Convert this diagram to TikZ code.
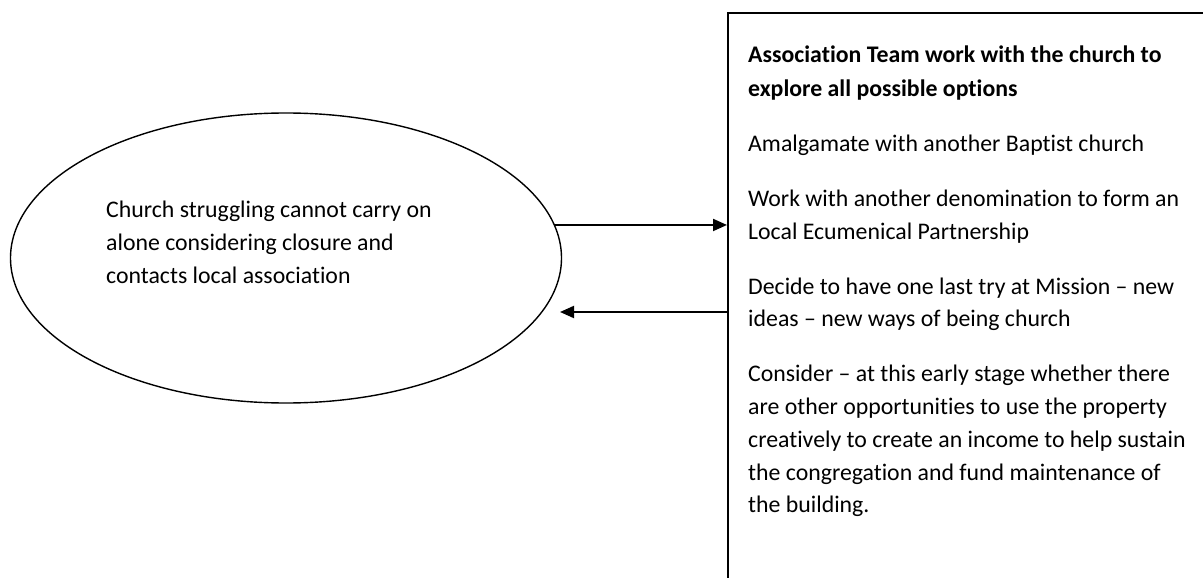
\documentclass[tikz,border=0pt]{standalone}
\usepackage{fontspec}
\setmainfont{Carlito}[Ligatures={NoCommon}]
\usetikzlibrary{shapes.geometric,arrows.meta}
\tikzset{
  txt/.style={anchor=base west, inner sep=0pt, font=\fontsize{23.8}{33}\selectfont},
  htxt/.style={txt, font=\fontsize{23.8}{33}\selectfont\bfseries},
  arr/.style={line width=2pt, -{Triangle[length=14pt,width=12pt]}},
}
\begin{document}
\begin{tikzpicture}[x=1pt,y=-1pt]
\clip (0,0) rectangle (1203,578);
\fill[white] (0,0) rectangle (1203,578);
% ellipse
\node[draw, ellipse, line width=1.4pt, minimum width=551pt, minimum height=290pt, inner sep=0pt] (ell) at (286,258) {};
\node[txt] (e1) at (106,217) {Church struggling cannot carry on};
\node[txt] (e2) at (106,250) {alone considering closure and};
\node[txt] (e3) at (106,283) {contacts local association};
% box (extends past right and bottom edges)
\node[draw, line width=1.6pt, rectangle, anchor=north west, minimum width=520pt, minimum height=620pt, inner sep=0pt] (box) at (727,12) {};
\node[htxt] (l1) at (748,63) {Association Team work with the church to};
\node[htxt] (l2) at (748,96) {explore all possible options};
\node[txt] (l3) at (748,151) {Amalgamate with another Baptist church};
\node[txt] (l4) at (748,206) {Work with another denomination to form an};
\node[txt] (l5) at (748,239) {Local Ecumenical Partnership};
\node[txt] (l6) at (748,294) {Decide to have one last try at Mission -- new};
\node[txt] (l7) at (748,326) {ideas -- new ways of being church};
\node[txt] (l8) at (748,381) {Consider -- at this early stage whether there};
\node[txt] (l9) at (748,414) {are other opportunities to use the property};
\node[txt] (l10) at (748,447) {creatively to create an income to help sustain};
\node[txt] (l11) at (748,480) {the congregation and fund maintenance of};
\node[txt] (l12) at (748,512) {the building.};
% arrows
\draw[arr] (ell.7.3) -- (ell.7.3 -| box.west);
\coordinate (tip) at (560,312);
\draw[arr] (tip -| box.west) -- (tip);
\end{tikzpicture}
\end{document}
